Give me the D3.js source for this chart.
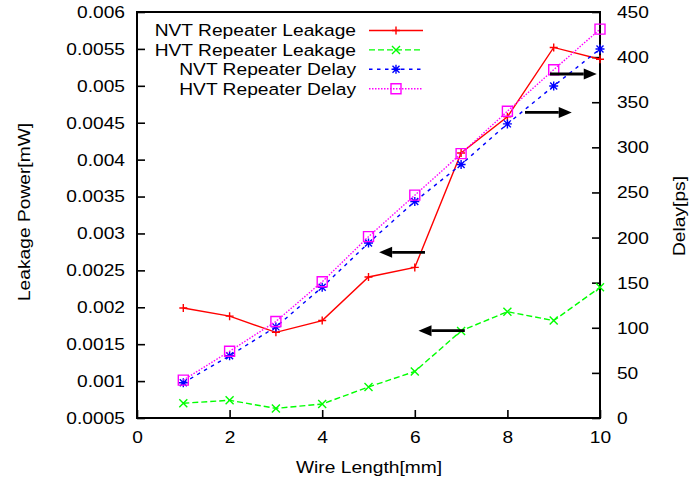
<!DOCTYPE html>
<html>
<head>
<meta charset="utf-8">
<script src="https://cdn.jsdelivr.net/npm/d3@7/dist/d3.min.js"></script>
<style>
  body { margin: 0; background: #fff; }
  text { font-family: "Liberation Sans", Arial, Helvetica, sans-serif; fill: #000; }
</style>
</head>
<body>
<svg id="chart" width="691" height="482"></svg>
<script>
// Wire length sweep (mm)
const wireLength = [1, 2, 3, 4, 5, 6, 7, 8, 9, 10];

// Leakage power (mW), left axis
const nvtLeakage = [0.00199, 0.00188, 0.00166, 0.00182, 0.00241, 0.00254, 0.00409, 0.00458, 0.00552, 0.00536];
const hvtLeakage = [0.00070, 0.00074, 0.00063, 0.00069, 0.00092, 0.00113, 0.00168, 0.00194, 0.00182, 0.00227];

// Repeater delay (ps), right axis
const nvtDelay = [39, 69, 101, 145, 194, 240, 281, 326, 368, 409];
const hvtDelay = [42, 74, 107, 151, 201, 247, 293, 340, 386, 431];

const seriesNames = ["NVT Repeater Leakage", "HVT Repeater Leakage", "NVT Repeater Delay", "HVT Repeater Delay"];

// Tick values
const xTicks = [0, 2, 4, 6, 8, 10];
const leakageTicks = [0.0005, 0.001, 0.0015, 0.002, 0.0025, 0.003, 0.0035, 0.004, 0.0045, 0.005, 0.0055, 0.006];
const delayTicks = [0, 50, 100, 150, 200, 250, 300, 350, 400, 450];

// Axis-pointer arrows (wire length from -> to, at a leakage level)
const arrowFromX = [8.38, 8.92, 6.22, 7.08];
const arrowToX   = [9.39, 9.93, 5.23, 6.08];
const arrowAtY   = [0.00464, 0.00516, 0.002745, 0.001683];

const plot = { left: 137, right: 600, top: 12, bottom: 418 };
const FONT = 17, STRETCH = 1.13;

const svg = d3.select("#chart");

const x = d3.scaleLinear().domain([0, 10]).range([plot.left, plot.right]);
const yL = d3.scaleLinear().domain([0.0005, 0.006]).range([plot.bottom, plot.top]);
const yR = d3.scaleLinear().domain([0, 450]).range([plot.bottom, plot.top]);

function styleAxis(g) {
  g.attr("font-size", null).attr("font-family", null);
  g.select(".domain").remove();
  g.selectAll(".tick line").attr("stroke", "#000").attr("stroke-width", 1.6);
  g.selectAll(".tick text")
    .style("font-size", FONT + "px")
    .attr("transform", `scale(${STRETCH},1)`);
}

// Axes with inward ticks
svg.append("g")
  .attr("transform", `translate(0,${plot.bottom})`)
  .call(d3.axisBottom(x).tickValues(xTicks).tickSize(-8).tickPadding(13).tickFormat(d3.format("d")))
  .call(styleAxis);

svg.append("g")
  .attr("transform", `translate(${plot.left},0)`)
  .call(d3.axisLeft(yL).tickValues(leakageTicks).tickSize(-8).tickPadding(10.6)
        .tickFormat(d => String(+d.toFixed(4))))
  .call(styleAxis);

svg.append("g")
  .attr("transform", `translate(${plot.right},0)`)
  .call(d3.axisRight(yR).tickValues(delayTicks).tickSize(-8).tickPadding(15).tickFormat(d3.format("d")))
  .call(styleAxis);

// Frame
svg.append("rect")
  .attr("x", plot.left).attr("y", plot.top)
  .attr("width", plot.right - plot.left).attr("height", plot.bottom - plot.top)
  .attr("fill", "none").attr("stroke", "#000").attr("stroke-width", 2);

// Axis titles
function label(txt, tx, ty, rot, anchor) {
  svg.append("text")
    .attr("transform", `translate(${tx},${ty}) rotate(${rot}) scale(${STRETCH},1)`)
    .attr("text-anchor", anchor)
    .style("font-size", FONT + "px")
    .text(txt);
}
label("Wire Length[mm]", 369, 473, 0, "middle");
label("Leakage Power[mW]", 30, 212, -90, "middle");
label("Delay[ps]", 685, 216, -90, "middle");

// Marker shapes
const markers = {
  plus: "M-4,0H4M0,-4V4",
  cross: "M-4,-4L4,4M-4,4L4,-4",
  star: "M-4.5,0H4.5M0,-4.5V4.5M-3.5,-3.5L3.5,3.5M-3.5,3.5L3.5,-3.5",
  square: "M-5,-5H5V5H-5Z"
};

const series = [
  { name: seriesNames[0], values: nvtLeakage, y: yL, color: "#ff0000", dash: null, marker: markers.plus },
  { name: seriesNames[1], values: hvtLeakage, y: yL, color: "#00ff00", dash: "6,3", marker: markers.cross },
  { name: seriesNames[2], values: nvtDelay,  y: yR, color: "#0000ff", dash: "3.5,4.5", marker: markers.star },
  { name: seriesNames[3], values: hvtDelay,  y: yR, color: "#ff00ff", dash: "1.5,1.5", marker: markers.square }
];

series.forEach(s => {
  const line = d3.line().x((d, i) => x(wireLength[i])).y(d => s.y(d));
  svg.append("path")
    .datum(s.values)
    .attr("d", line)
    .attr("fill", "none")
    .attr("stroke", s.color)
    .attr("stroke-width", 1.4)
    .attr("stroke-dasharray", s.dash);
  svg.append("g").selectAll("path")
    .data(s.values)
    .join("path")
    .attr("transform", (d, i) => `translate(${x(wireLength[i])},${s.y(d)})`)
    .attr("d", s.marker)
    .attr("fill", "none")
    .attr("stroke", s.color)
    .attr("stroke-width", 1.4);
});

// Legend
const legendTextX = 356, legendLine = [369, 423], legendTop = 30.5, legendStep = 19.4;
series.forEach((s, i) => {
  const ly = legendTop + i * legendStep;
  svg.append("text")
    .attr("transform", `translate(${legendTextX},${ly}) scale(${STRETCH},1)`)
    .attr("text-anchor", "end")
    .attr("dy", "0.35em")
    .style("font-size", FONT + "px")
    .text(s.name);
  svg.append("line")
    .attr("x1", legendLine[0]).attr("x2", legendLine[1])
    .attr("y1", ly).attr("y2", ly)
    .attr("stroke", s.color).attr("stroke-width", 1.4)
    .attr("stroke-dasharray", s.dash);
  svg.append("path")
    .attr("transform", `translate(${(legendLine[0] + legendLine[1]) / 2},${ly})`)
    .attr("d", s.marker)
    .attr("fill", "none").attr("stroke", s.color).attr("stroke-width", 1.4);
});

// Arrows pointing to the relevant axis
arrowFromX.forEach((fx, i) => {
  const x1 = x(fx), x2 = x(arrowToX[i]), ay = yL(arrowAtY[i]);
  const dir = Math.sign(x2 - x1), head = 13, half = 5.5;
  svg.append("line")
    .attr("x1", x1).attr("x2", x2 - dir * head)
    .attr("y1", ay).attr("y2", ay)
    .attr("stroke", "#000").attr("stroke-width", 2.8);
  svg.append("path")
    .attr("d", `M${x2},${ay}L${x2 - dir * head},${ay - half}L${x2 - dir * head},${ay + half}Z`)
    .attr("fill", "#000");
});
</script>
</body>
</html>
